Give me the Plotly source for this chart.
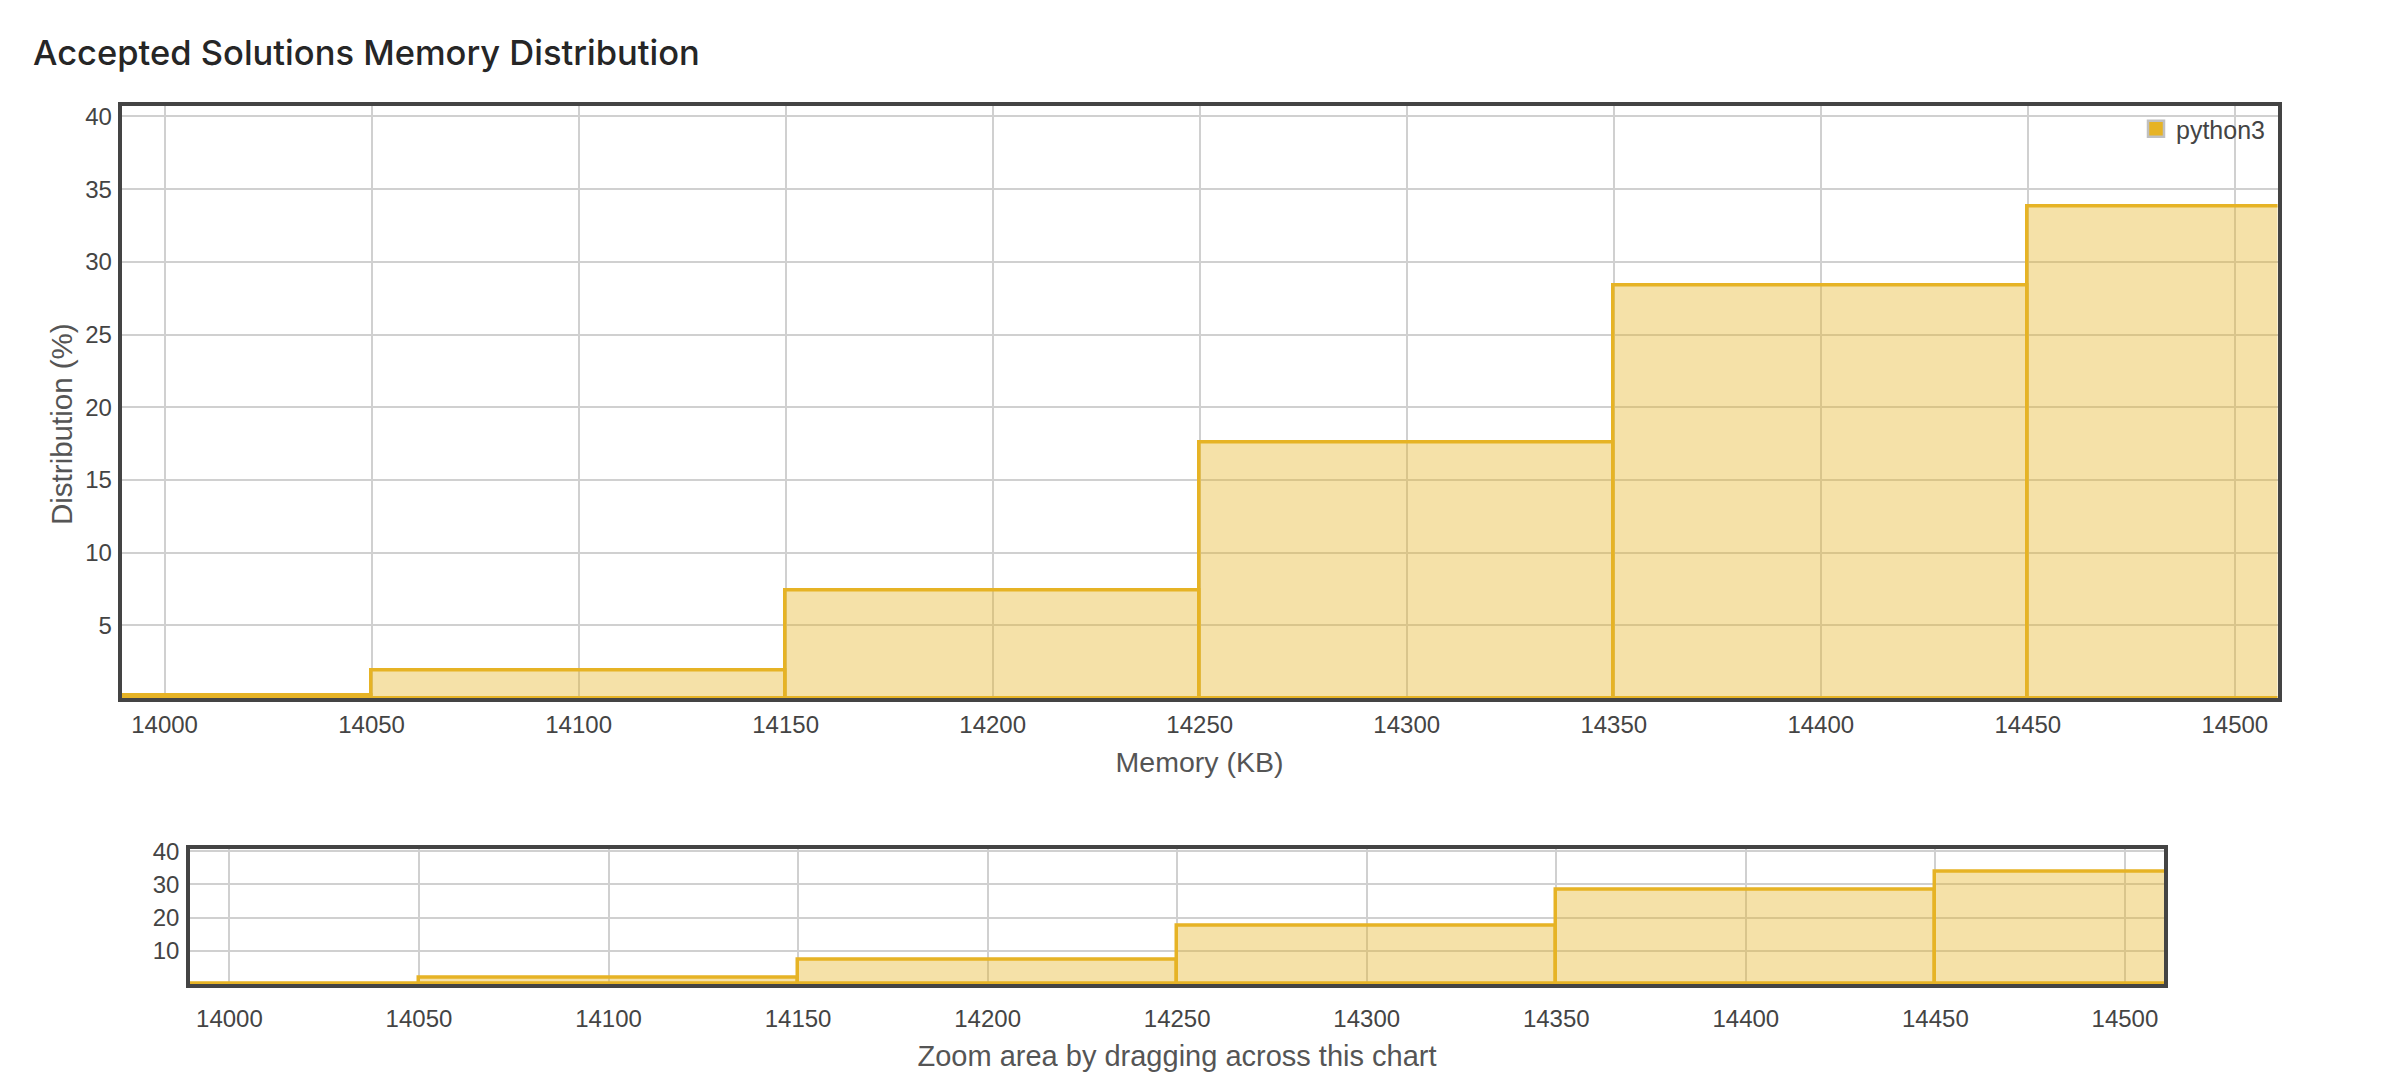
import plotly.graph_objects as go

# ---- data ----
bin_centers = [14000, 14100, 14200, 14300, 14400, 14500]
distribution = [0.2, 1.9, 7.4, 17.6, 28.4, 33.8]
bin_width = 100
series_name = "python3"
x_ticks = [14000, 14050, 14100, 14150, 14200, 14250, 14300, 14350, 14400, 14450, 14500]
y_ticks_main = [5, 10, 15, 20, 25, 30, 35, 40]
y_ticks_nav = [10, 20, 30, 40]

# page is 2408x1082 with 8px default body margin
PAD = 8
W, H = 2408 - 2 * PAD, 1082 - 2 * PAD
LINE = "#e6b325"
FILL = "rgba(230,179,37,0.4)"
BORDER = "#444444"
GRID = "#d0d0d0"
TXT = "#444444"
FONT = "Liberation Sans, Arial, sans-serif"

fig = go.Figure()

fig.add_trace(go.Bar(
    x=bin_centers, y=distribution, width=[bin_width] * len(bin_centers),
    marker=dict(color=FILL, line=dict(color=LINE, width=3.5)),
    name=series_name, showlegend=False, xaxis="x", yaxis="y",
))
# legend entry
fig.add_trace(go.Scatter(
    x=[None], y=[None], name=series_name, mode="markers",
    marker=dict(symbol="square", size=20, color=LINE, line=dict(color="#c0c0c0", width=2.5)),
    xaxis="x", yaxis="y", showlegend=True,
))
# navigator chart
fig.add_trace(go.Bar(
    x=bin_centers, y=distribution, width=[bin_width] * len(bin_centers),
    marker=dict(color=FILL, line=dict(color=LINE, width=3.5)),
    name=series_name, showlegend=False, xaxis="x2", yaxis="y2",
))

def px_x(p):
    return (p - PAD) / W

def px_y(p):
    return 1 - (p - PAD) / H

axis_common = dict(
    showline=True, mirror=True, linecolor=BORDER, linewidth=3.5,
    showgrid=True, gridcolor=GRID, gridwidth=1.5, zeroline=False,
    tickfont=dict(family=FONT, size=24, color=TXT), ticks="",
    tickformat="d", fixedrange=True, automargin=False,
)

X_RANGE = [13989.6, 14510.3]
Y_RANGE = [0, 40.75]

fig.update_layout(
    width=W, height=H,
    margin=dict(l=0, r=0, t=0, b=0, pad=0),
    paper_bgcolor="white", plot_bgcolor="white",
    bargap=0, barmode="overlay",
    title=dict(
        text="Accepted Solutions Memory Distribution",
        x=px_x(33), xanchor="left", xref="paper",
        y=px_y(53), yanchor="middle", yref="paper", automargin=False,
        font=dict(family="Inter, Roboto, sans-serif", size=34.5, color="#262626", weight=500),
    ),
    xaxis=dict(
        domain=[px_x(121.5), px_x(2277.5)], range=X_RANGE, anchor="y",
        tickvals=x_ticks, ticklabelstandoff=2,
        title=dict(text="Memory (KB)", standoff=17, font=dict(family=FONT, size=28.5, color="#555555")),
        **axis_common,
    ),
    yaxis=dict(
        domain=[px_y(698), px_y(105.5)], range=Y_RANGE, anchor="x",
        tickvals=y_ticks_main, ticklabelstandoff=1,
        **axis_common,
    ),
    xaxis2=dict(
        domain=[px_x(190), px_x(2164)], range=X_RANGE, anchor="y2",
        tickvals=x_ticks, ticklabelstandoff=10,
        title=dict(text="Zoom area by dragging across this chart", standoff=16,
                   font=dict(family=FONT, size=29, color="#555555")),
        **axis_common,
    ),
    yaxis2=dict(
        domain=[px_y(984), px_y(848.7)], range=Y_RANGE, anchor="x2",
        tickvals=y_ticks_nav, ticklabelstandoff=2,
        **axis_common,
    ),
    legend=dict(
        x=px_x(2270), xanchor="right", y=px_y(106), yanchor="top",
        bgcolor="rgba(0,0,0,0)", font=dict(family=FONT, size=25, color=TXT),
        itemwidth=30,
    ),
    annotations=[dict(
        text="Distribution (%)", textangle=-90,
        x=px_x(61), y=px_y(424), xref="paper", yref="paper",
        xanchor="center", yanchor="middle", showarrow=False,
        font=dict(family=FONT, size=29.5, color="#555555"),
    )],
)

fig.write_html("out.html")
